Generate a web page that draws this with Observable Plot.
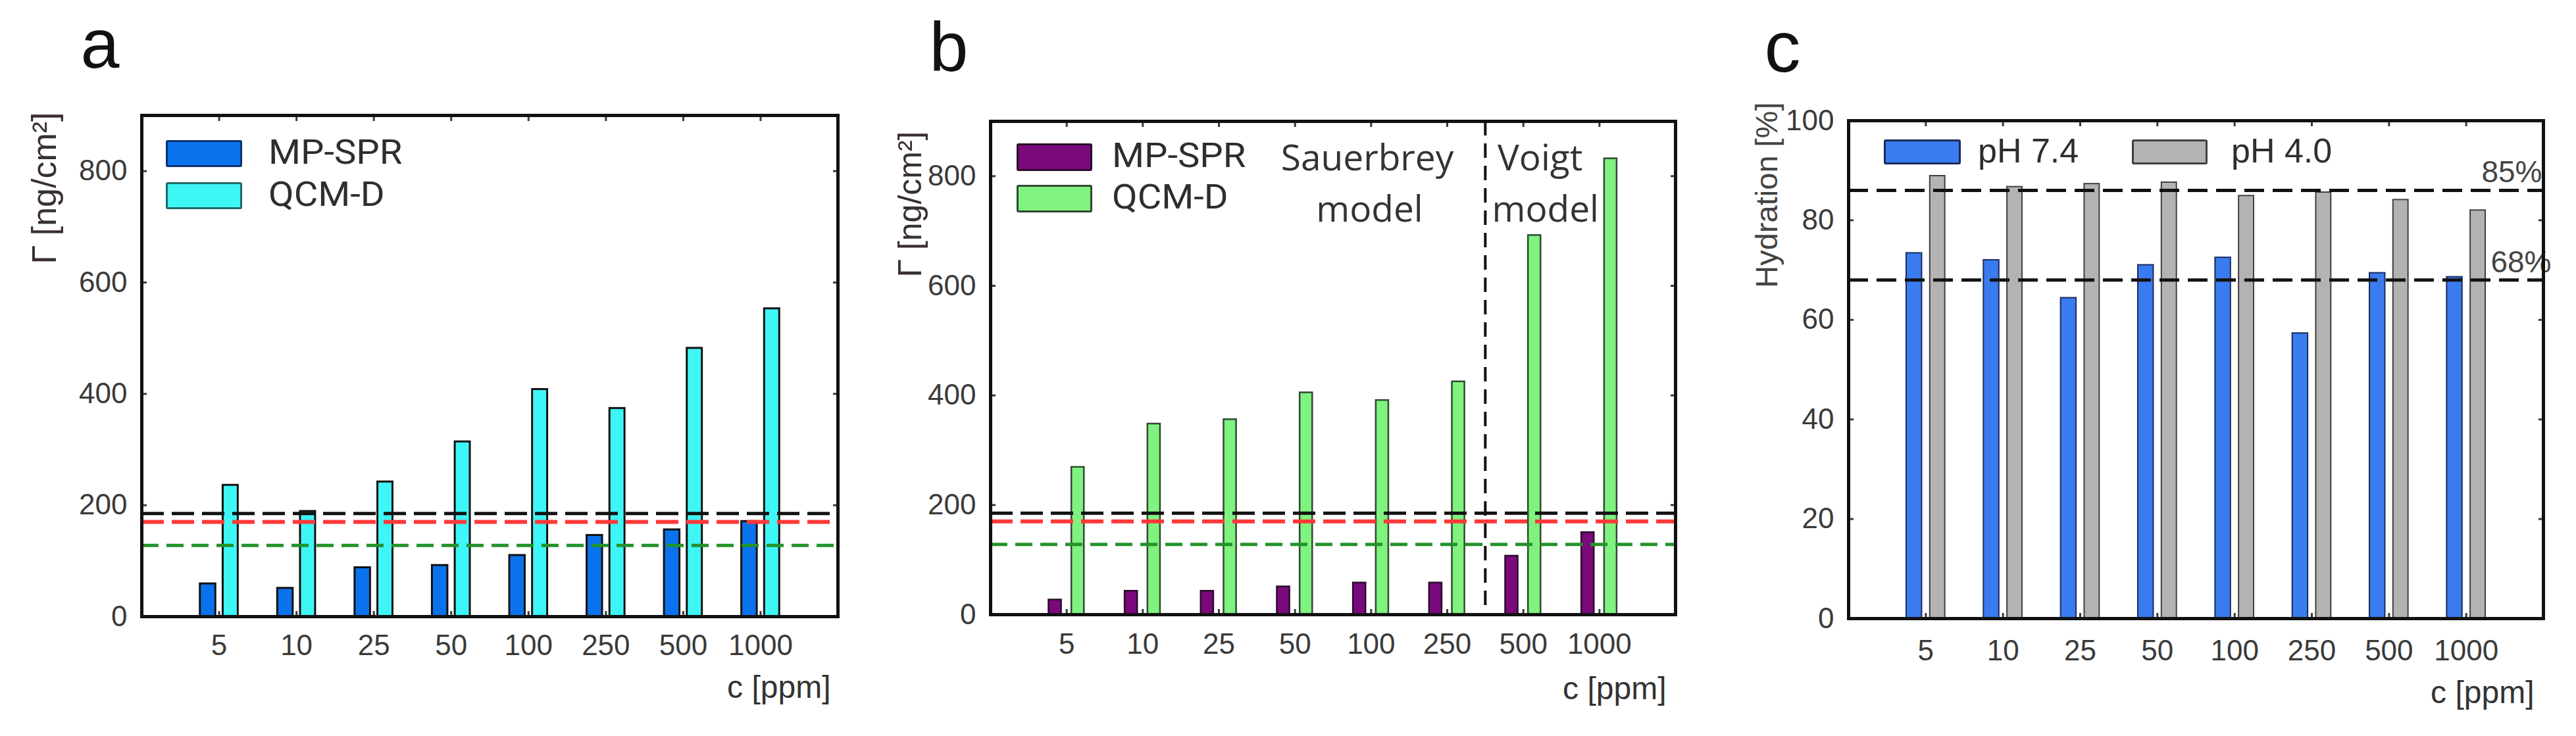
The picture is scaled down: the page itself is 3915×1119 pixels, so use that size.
<!DOCTYPE html>
<html><head><meta charset="utf-8">
<script src="https://cdn.jsdelivr.net/npm/d3@7"></script>
<script src="https://cdn.jsdelivr.net/npm/@observablehq/plot@0.6"></script>
<style>
html,body{margin:0;padding:0;background:#fff;}
#root{position:relative;width:3915px;height:1119px;overflow:hidden;background:#fff;}
.panel{position:absolute;top:0;}
.sw{position:absolute;box-sizing:border-box;}
.lt{position:absolute;white-space:nowrap;line-height:1;color:#2e2e2e;transform-origin:0 50%;}
</style></head><body><div id="root"></div>
<script>
// ---------- data ----------
const categories = ["5", "10", "25", "50", "100", "250", "500", "1000"];
const seriesAB = ["MP-SPR", "QCM-D"];
const aMpSpr = [59, 51, 88, 92, 110, 146, 156, 171];
const aQcmD  = [236, 189, 242, 314, 408, 374, 482, 553];
const bMpSpr = [27, 43, 43, 51, 58, 58, 107, 150];
const bQcmD  = [269, 348, 356, 405, 391, 425, 692, 832];
const seriesC = ["pH 7.4", "pH 4.0"];
const cPh74 = [73.4, 72.0, 64.4, 71.0, 72.5, 57.3, 69.4, 68.6];
const cPh40 = [88.9, 86.7, 87.3, 87.6, 84.9, 85.6, 84.1, 82.0];
const refLinesAB = [185, 170, 128];          // black, red, green dashed levels
const refLinesC = [86, 68];
const refLabelsC = ["85%", "68%"];
const yTicksAB = [0, 200, 400, 600, 800];
const yTicksC = [0, 20, 40, 60, 80, 100];
const modelBoundary = 6.5;                   // between 250 and 500 ppm
const modelLabels = ["Sauerbrey", "model", "Voigt", "model"];
const panelLetters = ["a", "b", "c"];
const yLabelAB = "Γ [ng/cm²]";
const yLabelC = "Hydration [%]";
const xLabel = "c [ppm]";

// ---------- styles ----------
const colA = ["#0a72ec", "#3ff6f6"];
const colB = ["#7a0a7c", "#7ff27f"];
const colC = ["#3a7bf0", "#b3b3b3"];
const refCols = ["#111111", "#ff3838", "#23932a"];
const K = categories.map((c, i) => i + 1);
const SANS = "Liberation Sans, Arial, sans-serif";
const OPEN = "Open Sans, Noto Sans, sans-serif";
const ROBO = "Roboto, Open Sans, sans-serif";

const rows = vals => vals.map((v, i) => ({k: i + 1, v}));
const bars = (vals, o1, o2, fill, stroke, sw) =>
  Plot.rectY(rows(vals), {x1: d => d.k + o1, x2: d => d.k + o2, y1: 0, y2: "v", fill, stroke, strokeWidth: sw});

function axes(yTicks, padX) {
  return [
    Plot.axisX({anchor: "bottom", ticks: K, tickFormat: i => categories[i - 1], tickSize: -8, tickPadding: padX, strokeWidth: 3, color: "#3a3a3a", label: null}),
    Plot.axisX({anchor: "top", ticks: K, tickFormat: () => "", tickSize: -8, strokeWidth: 3, color: "#3a3a3a", label: null}),
    Plot.axisY({anchor: "left", ticks: yTicks, tickSize: -8, tickPadding: 30, strokeWidth: 3, color: "#3a3a3a", label: null}),
    Plot.axisY({anchor: "right", ticks: yTicks, tickFormat: () => "", tickSize: -8, strokeWidth: 3, color: "#3a3a3a", label: null})
  ];
}
function refRules(lines, dash) {
  return lines.map((v, i) => Plot.ruleY([v], {stroke: refCols[i], strokeWidth: i === 1 ? 6 : 5, strokeDasharray: dash[i]}));
}
const baseStyle = {fontFamily: SANS, fontSize: "44px", background: "transparent", overflow: "visible"};

// ---------- panel a ----------
const pa = Plot.plot({
  width: 1305, height: 1119, marginLeft: 215, marginRight: 32, marginTop: 175, marginBottom: 182,
  style: baseStyle,
  x: {domain: [0, 9]}, y: {domain: [0, 900]},
  marks: [
    bars(aMpSpr, -0.245, -0.045, colA[0], "#111", 3),
    bars(aQcmD, 0.05, 0.245, colA[1], "#111", 3),
    ...refRules(refLinesAB, ["34,12", "34,12", "26,12"]),
    ...axes(yTicksAB, 35),
    Plot.frame({stroke: "#111", strokeWidth: 5}),
    Plot.text([yLabelAB], {text: d => d, frameAnchor: "top-left", rotate: -90, textAnchor: "end", lineAnchor: "middle", dx: -147, dy: -5, fontSize: 52, fill: "#3a3030", fontFamily: SANS}),
    Plot.text([xLabel], {text: d => d, frameAnchor: "bottom-right", textAnchor: "end", lineAnchor: "bottom", dx: -11, dy: 123, fontSize: 48, fill: "#333", fontFamily: SANS}),
    Plot.text([panelLetters[0]], {text: d => d, frameAnchor: "top-left", textAnchor: "start", lineAnchor: "bottom", dx: -93, dy: -73, fontSize: 106, fill: "#111", fontFamily: SANS})
  ]
});

// ---------- panel b ----------
const pb = Plot.plot({
  width: 1305, height: 1119, marginLeft: 200, marginRight: 64, marginTop: 184, marginBottom: 185,
  style: baseStyle,
  x: {domain: [0, 9]}, y: {domain: [0, 900]},
  marks: [
    bars(bMpSpr, -0.235, -0.07, colB[0], "#2a0a2a", 2.5),
    bars(bQcmD, 0.065, 0.23, colB[1], "#2f4a2f", 2.5),
    ...refRules(refLinesAB, ["34,12", "34,12", "26,12"]),
    Plot.ruleX([modelBoundary], {stroke: "#111", strokeWidth: 4, strokeDasharray: "22,12"}),
    Plot.text([{x: 4.95, y: 832, t: modelLabels[0]}, {x: 4.98, y: 738, t: modelLabels[1]}, {x: 7.22, y: 832, t: modelLabels[2]}, {x: 7.29, y: 738, t: modelLabels[3]}],
      {x: "x", y: "y", text: "t", fontSize: 55, fill: "#333", fontFamily: OPEN, lineAnchor: "middle"}),
    ...axes(yTicksAB, 36),
    Plot.frame({stroke: "#111", strokeWidth: 5}),
    Plot.text([yLabelAB], {text: d => d, frameAnchor: "top-left", rotate: -90, textAnchor: "end", lineAnchor: "middle", dx: -122, dy: 15, fontSize: 50, fill: "#3a3030", fontFamily: SANS}),
    Plot.text([xLabel], {text: d => d, frameAnchor: "bottom-right", textAnchor: "end", lineAnchor: "bottom", dx: -14, dy: 128, fontSize: 48, fill: "#333", fontFamily: SANS}),
    Plot.text([panelLetters[1]], {text: d => d, frameAnchor: "top-left", textAnchor: "start", lineAnchor: "bottom", dx: -93, dy: -77, fontSize: 106, fill: "#111", fontFamily: SANS})
  ]
});

// ---------- panel c ----------
const refTextC = i => Plot.text([{v: refLinesC[i], t: refLabelsC[i]}], {y: "v", text: "t", frameAnchor: "right", textAnchor: "end", lineAnchor: "bottom", dx: i === 0 ? -2 : 12, dy: -12, fontSize: 46, fill: "#444", fontFamily: SANS});
const pc = Plot.plot({
  width: 1305, height: 1119, marginLeft: 199, marginRight: 50, marginTop: 183, marginBottom: 179,
  style: baseStyle,
  x: {domain: [0, 9]}, y: {domain: [0, 100]},
  marks: [
    bars(cPh74, -0.25, -0.05, colC[0], "#1a2c5a", 2),
    bars(cPh40, 0.055, 0.25, colC[1], "#404040", 2),
    Plot.ruleY(refLinesC, {stroke: "#111", strokeWidth: 5, strokeDasharray: "30,13"}),
    refTextC(0), refTextC(1),
    ...axes(yTicksC, 40),
    Plot.frame({stroke: "#111", strokeWidth: 5}),
    Plot.text([yLabelC], {text: d => d, frameAnchor: "top-left", rotate: -90, textAnchor: "end", lineAnchor: "middle", dx: -124, dy: -28, fontSize: 47, fill: "#444", fontFamily: SANS}),
    Plot.text([xLabel], {text: d => d, frameAnchor: "bottom-right", textAnchor: "end", lineAnchor: "bottom", dx: -14, dy: 128, fontSize: 48, fill: "#333", fontFamily: SANS}),
    Plot.text([panelLetters[2]], {text: d => d, frameAnchor: "top-left", textAnchor: "start", lineAnchor: "bottom", dx: -128, dy: -75, fontSize: 110, fill: "#111", fontFamily: SANS})
  ]
});

const root = document.getElementById("root");
[[pa, 0], [pb, 1305], [pc, 2610]].forEach(([svg, left]) => {
  const d = document.createElement("div");
  d.className = "panel"; d.style.left = left + "px";
  d.appendChild(svg); root.appendChild(d);
});

// ---------- legends (HTML overlays) ----------
function legendItem(name, fill, stroke, sx, sy, sw, sh, tx, font, fs, stretch) {
  const s = document.createElement("div");
  s.className = "sw";
  Object.assign(s.style, {left: sx + "px", top: sy + "px", width: sw + "px", height: sh + "px", background: fill, border: "3px solid " + stroke, borderRadius: "3px"});
  root.appendChild(s);
  const t = document.createElement("div");
  t.className = "lt"; t.textContent = name;
  Object.assign(t.style, {left: tx + "px", top: (sy + sh / 2 - 2) + "px", fontFamily: font, fontSize: fs + "px",
    transform: `translateY(-50%) scaleX(${stretch})`});
  root.appendChild(t);
}
legendItem(seriesAB[0], colA[0], "#0a3270", 252, 213, 116, 41, 408, ROBO, 52, 1.08);
legendItem(seriesAB[1], colA[1], "#1f6a6a", 252, 277, 116, 41, 408, ROBO, 52, 1.08);
legendItem(seriesAB[0], colB[0], "#2a0a2a", 1545, 218, 115, 42, 1690, ROBO, 52, 1.08);
legendItem(seriesAB[1], colB[1], "#2f4a2f", 1545, 281, 115, 42, 1690, ROBO, 52, 1.08);
legendItem(seriesC[0], colC[0], "#1a2c5a", 2863, 212, 117, 38, 3006, SANS, 52, 1.0);
legendItem(seriesC[1], colC[1], "#404040", 3240, 212, 115, 38, 3391, SANS, 52, 1.0);
</script>
</body></html>
